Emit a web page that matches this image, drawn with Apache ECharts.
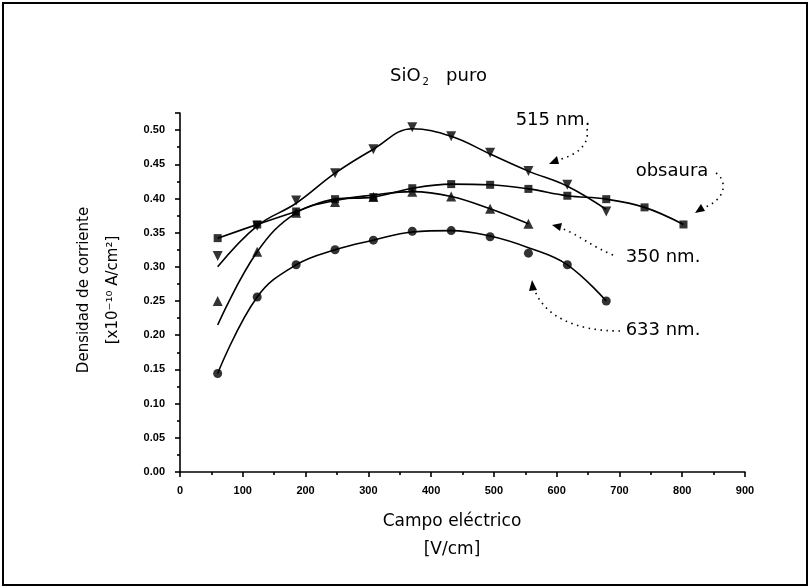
<!DOCTYPE html>
<html>
<head>
<meta charset="utf-8">
<script src="https://cdn.jsdelivr.net/npm/echarts@6/dist/echarts.min.js"></script>
<style>
  html, body { margin: 0; padding: 0; background: #fff; }
  #main { width: 810px; height: 588px; }
</style>
</head>
<body>
<div id="main"></div>
<script>
// datos
var campo = [60, 123, 185, 247, 308, 370, 432, 494, 555, 617, 679, 740, 802];
var obscura = [0.342, 0.362, 0.381, 0.399, 0.402, 0.415, 0.421, 0.420, 0.414, 0.404, 0.399, 0.387, 0.362];
var nm350 = [0.250, 0.322, 0.379, 0.395, 0.402, 0.410, 0.403, 0.385, 0.363];
var nm350Curva = [0.215, 0.322, 0.379, 0.397, 0.405, 0.410, 0.403, 0.385, 0.363];
var nm515 = [0.316, 0.360, 0.397, 0.437, 0.472, 0.504, 0.491, 0.467, 0.440, 0.420, 0.381];
var nm515Curva = [0.300, 0.360, 0.393, 0.437, 0.472, 0.502, 0.491, 0.465, 0.440, 0.418, 0.384];
var nm633 = [0.144, 0.256, 0.303, 0.325, 0.339, 0.352, 0.353, 0.344, 0.320, 0.303, 0.250];
var nm633Curva = [0.144, 0.256, 0.303, 0.325, 0.339, 0.351, 0.353, 0.345, 0.328, 0.303, 0.250];
var xTicks = [0, 100, 200, 300, 400, 500, 600, 700, 800, 900];
var yTicks = ['0.00', '0.05', '0.10', '0.15', '0.20', '0.25', '0.30', '0.35', '0.40', '0.45', '0.50'];

function pares(xs, ys) {
  var out = [];
  for (var i = 0; i < ys.length; i++) {
    out.push([xs[i], ys[i]]);
  }
  return out;
}

var myChart = echarts.init(document.getElementById('main'));

var fuente = '"DejaVu Sans", "Noto Sans", sans-serif';
var puntos = { color: '#000' };
var linea = { color: '#000', width: 1.6 };
var punteado = { fill: 'none', stroke: '#000', lineWidth: 1.6, lineDash: [1.5, 4.5] };

function texto(x, y, t, size, rot) {
  return {
    type: 'text', x: x, y: y, rotation: rot || 0,
    style: { text: t, font: size + 'px ' + fuente, fill: '#000', align: 'center', verticalAlign: 'middle' }
  };
}

var option = {
  backgroundColor: '#fff',
  animation: false,
  title: {
    text: '{a|SiO}{s|2}{a|   puro}',
    left: 385,
    top: 61,
    textStyle: {
      fontWeight: 'normal',
      rich: {
        a: { fontFamily: fuente, fontSize: 18, fontWeight: 'normal', color: '#000' },
        s: { fontFamily: fuente, fontSize: 10, fontWeight: 'normal', color: '#000', padding: [11, 0, 0, 2] }
      }
    }
  },
  grid: { left: 180, right: 65, top: 113, bottom: 116 },
  xAxis: {
    type: 'value',
    min: 0,
    max: 900,
    interval: 100,
    splitLine: { show: false },
    axisLine: { onZero: false, lineStyle: { color: '#000', width: 1.6 } },
    axisTick: { length: 5, lineStyle: { color: '#000', width: 1.6 } },
    minorTick: { show: true, splitNumber: 2, length: 3, lineStyle: { color: '#000', width: 1.6 } },
    axisLabel: {
      color: '#000', fontSize: 11, fontWeight: 'bold', fontFamily: 'Liberation Sans, Arial', margin: 13,
      formatter: function (v) { return xTicks.indexOf(v) >= 0 ? String(v) : ''; }
    }
  },
  yAxis: {
    type: 'value',
    min: 0,
    max: 0.525,
    interval: 0.05,
    splitLine: { show: false },
    axisLine: { lineStyle: { color: '#000', width: 1.6 } },
    axisTick: { length: 5, lineStyle: { color: '#000', width: 1.6 } },
    minorTick: { show: true, splitNumber: 2, length: 3, lineStyle: { color: '#000', width: 1.6 } },
    axisLabel: {
      color: '#000', fontSize: 11, fontWeight: 'bold', fontFamily: 'Liberation Sans, Arial', margin: 15,
      formatter: function (v) {
        var s = v.toFixed(2);
        return yTicks.indexOf(s) >= 0 && v < 0.51 ? s : '';
      }
    }
  },
  graphic: [
    { type: 'rect', shape: { x: 3, y: 3, width: 804, height: 582 }, style: { fill: 'none', stroke: '#000', lineWidth: 2 } },
    // titulos de ejes
    texto(84, 290, 'Densidad de corriente', 15, Math.PI / 2),
    texto(113, 290, '[x10\u207B\u00B9\u2070 A/cm\u00B2]', 15, Math.PI / 2),
    texto(452, 522, 'Campo eléctrico', 17),
    texto(452, 550, '[V/cm]', 17),
    // etiquetas con flechas punteadas
    texto(553, 120, '515 nm.', 18),
    { type: 'bezierCurve', shape: { x1: 587, y1: 129, cpx1: 590, cpy1: 146, cpx2: 575, cpy2: 156, x2: 557, y2: 160 }, style: punteado },
    { type: 'polygon', shape: { points: [[549, 164], [557, 156], [559, 164]] }, style: { fill: '#000' } },

    texto(672, 171, 'obsaura', 18),
    { type: 'bezierCurve', shape: { x1: 716, y1: 173, cpx1: 728, cpy1: 181, cpx2: 726, cpy2: 200, x2: 703, y2: 208 }, style: punteado },
    { type: 'polygon', shape: { points: [[695, 213], [701, 204], [705, 211]] }, style: { fill: '#000' } },

    texto(663, 257, '350 nm.', 18),
    { type: 'bezierCurve', shape: { x1: 613, y1: 255, cpx1: 593, cpy1: 247, cpx2: 577, cpy2: 234, x2: 563, y2: 229 }, style: punteado },
    { type: 'polygon', shape: { points: [[552, 225], [562, 223], [560, 231]] }, style: { fill: '#000' } },

    texto(663, 330, '633 nm.', 18),
    { type: 'bezierCurve', shape: { x1: 620, y1: 331, cpx1: 575, cpy1: 331, cpx2: 545, cpy2: 316, x2: 535, y2: 291 }, style: punteado },
    { type: 'polygon', shape: { points: [[532, 280], [529, 291], [537, 290]] }, style: { fill: '#000' } }
  ],
  series: [
    { name: 'obscura', type: 'line', smooth: 0.4, symbol: 'none', lineStyle: linea, data: pares(campo, obscura) },
    { name: '350 nm.', type: 'line', smooth: 0.4, symbol: 'none', lineStyle: linea, data: pares(campo, nm350Curva) },
    { name: '515 nm.', type: 'line', smooth: 0.4, symbol: 'none', lineStyle: linea, data: pares(campo, nm515Curva) },
    { name: '633 nm.', type: 'line', smooth: 0.4, symbol: 'none', lineStyle: linea, data: pares(campo, nm633Curva) },
    { name: 'obscura pts', type: 'scatter', symbol: 'rect', symbolSize: 8, itemStyle: puntos, data: pares(campo, obscura) },
    { name: '350 nm. pts', type: 'scatter', symbol: 'triangle', symbolSize: 10, itemStyle: puntos, data: pares(campo, nm350) },
    { name: '515 nm. pts', type: 'scatter', symbol: 'triangle', symbolRotate: 180, symbolSize: 10, itemStyle: puntos, data: pares(campo, nm515) },
    { name: '633 nm. pts', type: 'scatter', symbol: 'circle', symbolSize: 9, itemStyle: puntos, data: pares(campo, nm633) }
  ]
};

myChart.setOption(option);
</script>
</body>
</html>
